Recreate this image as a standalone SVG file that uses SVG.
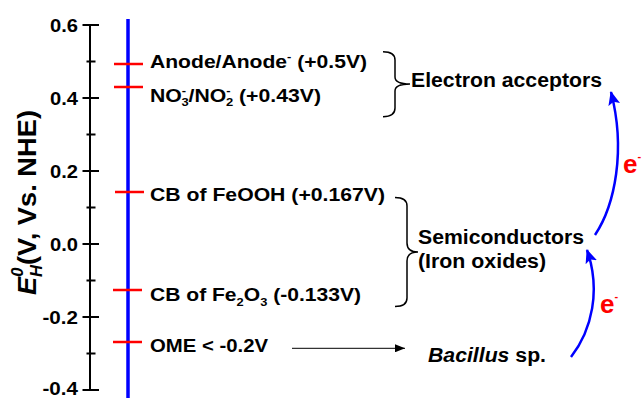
<svg xmlns="http://www.w3.org/2000/svg" width="643" height="398" viewBox="0 0 643 398">
<style>
text{font-family:"Liberation Sans",Arial,sans-serif;font-weight:bold;fill:#000}
.t{font-size:18px}
.r{font-size:20px}
.tk{font-size:18.5px}
.sup{font-size:11px}
.sub{font-size:11px}
.red{fill:#FF0000;font-size:26px}
.ax{stroke:#000;stroke-width:2;fill:none}
.rt{stroke:#FF0000;stroke-width:2.5}
.br{stroke:#000;stroke-width:1.5;fill:none}
.arc{stroke:#0000FF;stroke-width:2.5;fill:none}
</style>
<defs>
<marker id="bh" markerUnits="userSpaceOnUse" markerWidth="14" markerHeight="12" viewBox="0 0 14 12" refX="13" refY="6" orient="auto">
<path d="M0,0 L14,6 L0,12 L3,6 Z" fill="#0000FF"/>
</marker>
<marker id="kh" markerUnits="userSpaceOnUse" markerWidth="10" markerHeight="8" viewBox="0 0 10 8" refX="10" refY="4" orient="auto">
<path d="M0,0 L10,4 L0,8 Z" fill="#000"/>
</marker>
</defs>

<g id="axis">
<line class="ax" x1="90" y1="25" x2="90" y2="390"/>
<path class="ax" d="M82.5,25H99M82.5,98H99M82.5,171H99M82.5,244H99M82.5,317H99M82.5,390H99M86.5,61.5H95.5M86.5,134.5H95.5M86.5,207.5H95.5M86.5,280.5H95.5M86.5,353.5H95.5"/>
<text class="tk" x="50" y="31.5" textLength="28" lengthAdjust="spacingAndGlyphs">0.6</text>
<text class="tk" x="50" y="104.5" textLength="28" lengthAdjust="spacingAndGlyphs">0.4</text>
<text class="tk" x="50" y="177.5" textLength="28" lengthAdjust="spacingAndGlyphs">0.2</text>
<text class="tk" x="50" y="250.5" textLength="28" lengthAdjust="spacingAndGlyphs">0.0</text>
<text class="tk" x="42.5" y="323.5" textLength="35.5" lengthAdjust="spacingAndGlyphs">-0.2</text>
<text class="tk" x="42.5" y="395" textLength="35.5" lengthAdjust="spacingAndGlyphs">-0.4</text>
<g transform="translate(36,295) scale(1.15,1) rotate(-90)">
<text x="0" y="0" font-size="23" textLength="185" lengthAdjust="spacingAndGlyphs"><tspan font-style="italic">E</tspan><tspan font-style="italic" font-size="14" dy="-11">0</tspan><tspan font-style="italic" font-size="14" dx="-8" dy="16">H</tspan><tspan dy="-5">(V, Vs. NHE)</tspan></text>
</g>
</g>

<g id="scale-line">
<line x1="128" y1="19" x2="128" y2="398" stroke="#0000FF" stroke-width="3.5"/>
</g>

<g id="anode">
<line class="rt" x1="114" y1="64" x2="143" y2="64"/>
<text class="t" x="150" y="67.5" textLength="217" lengthAdjust="spacingAndGlyphs">Anode/Anode<tspan class="sup" dy="-8">-</tspan><tspan dy="8"> (+0.5V)</tspan></text>
</g>
<g id="nitrate">
<line class="rt" x1="114" y1="87" x2="143" y2="87"/>
<text class="t" x="150" y="102" textLength="171" lengthAdjust="spacingAndGlyphs">NO<tspan class="sup" dy="-8">-</tspan><tspan class="sub" dx="-4" dy="12">3</tspan><tspan dy="-4">/NO</tspan><tspan class="sup" dy="-8">-</tspan><tspan class="sub" dx="-4" dy="12">2</tspan><tspan dy="-4"> (+0.43V)</tspan></text>
</g>
<g id="feooh">
<line class="rt" x1="115" y1="192" x2="144" y2="192"/>
<text class="t" x="150" y="201" textLength="235" lengthAdjust="spacingAndGlyphs">CB of FeOOH (+0.167V)</text>
</g>
<g id="fe2o3">
<line class="rt" x1="113" y1="290" x2="142" y2="290"/>
<text class="t" x="150" y="301" textLength="211" lengthAdjust="spacingAndGlyphs">CB of Fe<tspan class="sub" dy="5">2</tspan><tspan dy="-5">O</tspan><tspan class="sub" dy="5">3</tspan><tspan dy="-5"> (-0.133V)</tspan></text>
</g>
<g id="ome">
<line class="rt" x1="113" y1="342" x2="142" y2="342"/>
<text class="t" x="150" y="352" textLength="118" lengthAdjust="spacingAndGlyphs">OME &lt; -0.2V</text>
</g>

<g id="electron-acceptors">
<path class="br" d="M383,51.7 Q395,51.7 395,60 L395,77 Q395,84 410,84 Q395,84 395,91 L395,108 Q395,116.7 383,116.7"/>
<text class="r" x="411" y="87" textLength="191" lengthAdjust="spacingAndGlyphs">Electron acceptors</text>
</g>
<g id="semiconductors">
<path class="br" d="M395,197.5 Q407,197.5 407,206 L407,243 Q407,252 418,252 Q407,252 407,261 L407,298 Q407,306.5 395,306.5"/>
<text class="r" x="418" y="244" textLength="166" lengthAdjust="spacingAndGlyphs">Semiconductors</text>
<text class="r" x="418" y="268" textLength="128" lengthAdjust="spacingAndGlyphs">(Iron oxides)</text>
</g>
<g id="bacillus">
<text class="r" x="428" y="362" textLength="118" lengthAdjust="spacingAndGlyphs"><tspan font-style="italic">Bacillus</tspan> sp.</text>
</g>

<g id="connectors">
<line x1="292" y1="348.3" x2="405" y2="348.3" stroke="#000" stroke-width="1" marker-end="url(#kh)"/>
<path class="arc" d="M571,357 C592,330 601,290 587,250" marker-end="url(#bh)"/>
<path class="arc" d="M595,235 C615,205 626,150 611,92" marker-end="url(#bh)"/>
<text class="red" x="600" y="313">e<tspan class="sup" font-size="15" dy="-13">-</tspan></text>
<text class="red" x="623" y="173">e<tspan class="sup" font-size="15" dy="-13">-</tspan></text>
</g>
</svg>
